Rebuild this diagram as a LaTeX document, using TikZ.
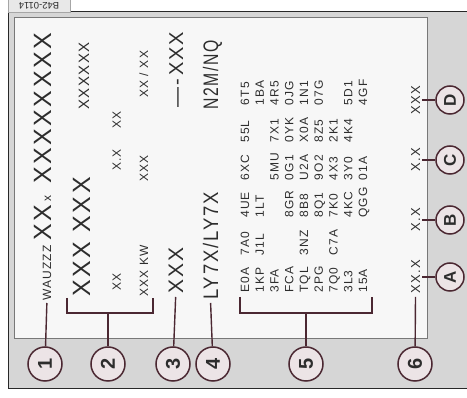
\documentclass[tikz,border=0pt]{standalone}
\usepackage{fontspec}
\setmainfont{Liberation Sans}
\newfontfamily\lblfont{Liberation Sans}[LetterSpace=10]
\definecolor{stripgray}{RGB}{214,214,214}
\definecolor{taggray}{RGB}{232,232,232}
\definecolor{panelwhite}{RGB}{247,247,247}
\definecolor{panelline}{RGB}{120,120,120}
\definecolor{framecol}{RGB}{40,40,40}
\definecolor{inkgray}{RGB}{45,45,45}
\definecolor{leadcol}{RGB}{75,40,50}
\definecolor{circfill}{RGB}{236,228,230}
\begin{document}
\begin{tikzpicture}[x=1pt,y=-1pt,
  every node/.style={inner sep=0pt,text=inkgray},
  txt/.style={rotate=90,anchor=base west,font=\lblfont\fontsize{#1}{#1}\selectfont},
  val/.style={rotate=90,anchor=base,font=\lblfont\fontsize{13}{13}\selectfont},
  numc/.style={circle,draw=leadcol,line width=1.5pt,fill=circfill,minimum size=34pt,rotate=90,font=\bfseries\fontsize{20}{20}\selectfont},
  letc/.style={numc,minimum size=28pt,font=\bfseries\fontsize{17}{17}\selectfont},
  lead/.style={draw=leadcol,line width=1.4pt}]
\useasboundingbox (0,0) rectangle (467,398);
\fill[white] (0,0) rectangle (467,398);
\filldraw[fill=stripgray,draw=framecol,line width=1pt] (8,12) rectangle (480,389);
\filldraw[fill=taggray,draw=gray!70] (8,-2) rectangle (70,12);
\node[rotate=180,font=\fontsize{9.5}{9.5}\selectfont] (tag) at (39,5.5) {B42-0114};
\filldraw[fill=panelwhite,draw=panelline,line width=0.8pt] (14,17) rectangle (427,338);
% first line
\node[txt=12] (wmi) at (51,301) {WAUZZZ};
\node[txt=25] (vin1) at (51,241) {XX};
\node[txt=12] (vin2) at (51,202) {x};
\node[txt=25] (vin3) at (51,184) {XXXXXXXX};
% block 2
\node[txt=25] (typ) at (90,297) {XXX XXX};
\node[txt=15] (typno) at (89,110) {XXXXXX};
\node[txt=12] (c1) at (121,291) {XX};
\node[txt=12] (c2) at (121,171) {X.X};
\node[txt=12] (c3) at (121,129) {XX};
\node[txt=12] (d1) at (148,297) {XXX KW};
\node[txt=12] (d2) at (148,182) {XXX};
\node[txt=12] (d3) at (148,98) {XX / XX};
% engine, gearbox
\node[txt=21] (eng) at (183,294) {XXX};
\node[txt=20] (eng2) at (183,108) {—-\,XXX};
\node[txt=21,xscale=0.88] (paint) at (218,300) {LY7X/LY7X};
\node[txt=21,xscale=0.75] (trim) at (218,110) {N2M/NQ};
% option codes
\foreach \row [count=\r from 0] in {{E0A,7A0,4UE,6XC,55L,6T5},{1KP,J1L,1LT,,,1BA},
    {3FA,,,5MU,7X1,4R5},{FCA,,8GR,0G1,0YK,0JG},{TQL,3NZ,8B8,U2A,X0A,1N1},
    {2PG,,8Q1,9O2,8Z5,07G},{7Q0,C7A,7K0,4X3,2K1,},{3L3,,4KC,3Y0,4K4,5D1},{15A,,QGG,01A,,4GF}}
  \foreach \code [count=\s from 0] in \row {
    \ifx\code\empty\else
      \node[txt=12] (opt\r-\s) at (249+14.75*\r,293-37.5*\s) {\code};
    \fi}
% weights
\node[val] (hA) at (420,277) {XX.X};
\node[val] (hB) at (420,220) {X.X};
\node[val] (hC) at (420,160) {X.X};
\node[val] (hD) at (420,100) {XXX};
% callouts
\node[numc] (n1) at (45,364) {1};
\node[numc] (n2) at (108,364) {2};
\node[numc] (n3) at (173,364) {3};
\node[numc] (n4) at (213,364) {4};
\node[numc] (n5) at (306,364) {5};
\node[numc] (n6) at (415,364) {6};
\node[letc] (nA) at (450,277) {A};
\node[letc] (nB) at (450,220) {B};
\node[letc] (nC) at (450,160) {C};
\node[letc] (nD) at (450,100) {D};
\coordinate (b2l) at (67,298);
\coordinate (b2m) at (108,313);
\coordinate (b2r) at (153,298);
\coordinate (b5l) at (240,297);
\coordinate (b5m) at (306,313);
\coordinate (b5r) at (372,297);
\draw[lead,shorten <=2pt] (wmi.west) -- (n1);
\draw[lead] (b2l) |- (b2m) -| (b2r);
\draw[lead] (b2m) -- (n2);
\draw[lead,shorten <=3pt] (eng.west) -- (n3);
\draw[lead,shorten <=3pt] (paint.west) -- (n4);
\draw[lead] (b5l) |- (b5m) -| (b5r);
\draw[lead] (b5m) -- (n5);
\draw[lead,shorten <=3pt] (hA.west) -- (n6);
\foreach \k in {A,B,C,D}
  \draw[lead,shorten <=2pt] (h\k.south) -- (n\k);
\end{tikzpicture}
\end{document}
